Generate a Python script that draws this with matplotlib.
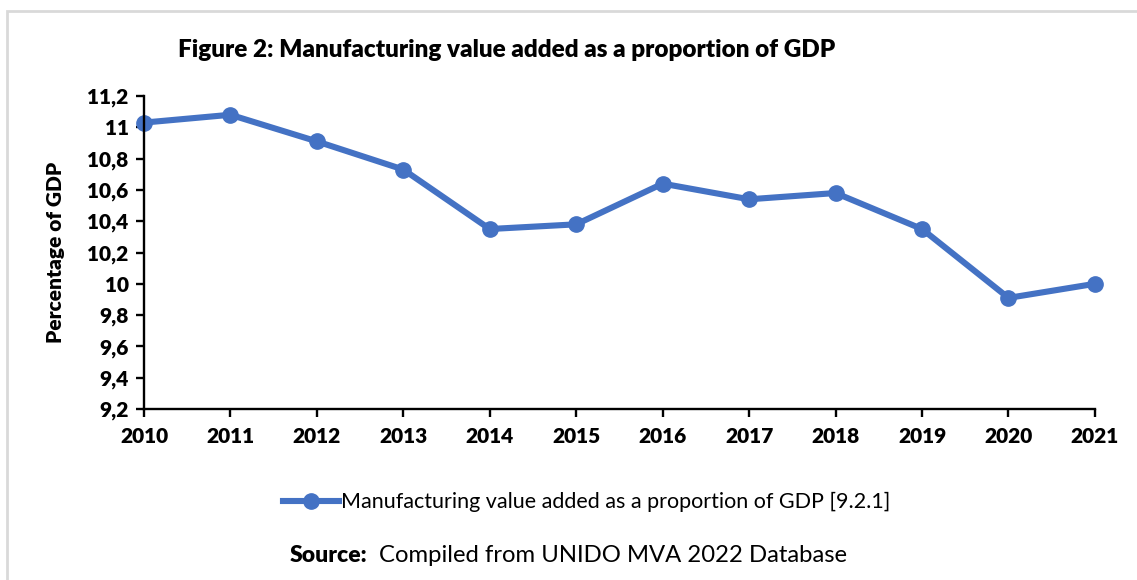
import matplotlib.pyplot as plt
from matplotlib.ticker import FuncFormatter, MultipleLocator
from matplotlib.patches import Rectangle

plt.rcParams['font.family'] = ['Lato', 'DejaVu Sans']

years = [2010, 2011, 2012, 2013, 2014, 2015, 2016, 2017, 2018, 2019, 2020, 2021]
mva_share = [11.03, 11.08, 10.91, 10.73, 10.35, 10.38, 10.64, 10.54, 10.58, 10.35, 9.91, 10.00]
series_label = "Manufacturing value added as a proportion of GDP [9.2.1]"
title = "Figure 2: Manufacturing value added as a proportion of GDP"

blue = "#4472C4"

fig = plt.figure(figsize=(11.37, 5.80), dpi=100)
ax = fig.add_axes([0.1266, 0.2948, 0.8364, 0.5397])

ax.plot(years, mva_share, color=blue, lw=4.4, marker='o', ms=11,
        solid_joinstyle='round', label=series_label, clip_on=False)

ax.set_xlim(2010, 2021)
ax.set_ylim(9.2, 11.2)
ax.set_xticks(years)
ax.yaxis.set_major_locator(MultipleLocator(0.2))


def comma_fmt(v, pos):
    s = f"{v:.1f}".rstrip('0').rstrip('.')
    return s.replace('.', ',')


ax.yaxis.set_major_formatter(FuncFormatter(comma_fmt))

for side in ('top', 'right'):
    ax.spines[side].set_visible(False)
for side in ('left', 'bottom'):
    ax.spines[side].set_linewidth(1.7)
ax.tick_params(axis='both', direction='out', length=6, width=1.7, labelsize=15)
ax.tick_params(axis='x', pad=7)
ax.tick_params(axis='y', pad=5)
for lbl in ax.get_xticklabels() + ax.get_yticklabels():
    lbl.set_fontweight('heavy')

ax.set_ylabel("Percentage of GDP", fontsize=15, fontweight='heavy', labelpad=16)

fig.text(0.446, 0.913, title, ha='center', va='center', fontsize=17.5, fontweight='heavy')

leg = fig.legend(loc='center', frameon=False, fontsize=15.5,
                 handlelength=2.6, handletextpad=0.1)
leg.set_bbox_to_anchor((0.516, 0.134), transform=fig.transFigure)

fig.text(0.255, 0.043, "Source:", ha='left', va='center', fontsize=16.5, fontweight='heavy')
fig.text(0.333, 0.043, "Compiled from UNIDO MVA 2022 Database", ha='left', va='center', fontsize=17.2)

# outer frame around the chart area
fig.patches.append(Rectangle((7 / 1137, -0.05), 1.2, 1 - 11 / 580 + 0.05,
                             transform=fig.transFigure, fill=False,
                             edgecolor='#d9d9d9', lw=2))

fig.savefig("out.png", dpi=100)
